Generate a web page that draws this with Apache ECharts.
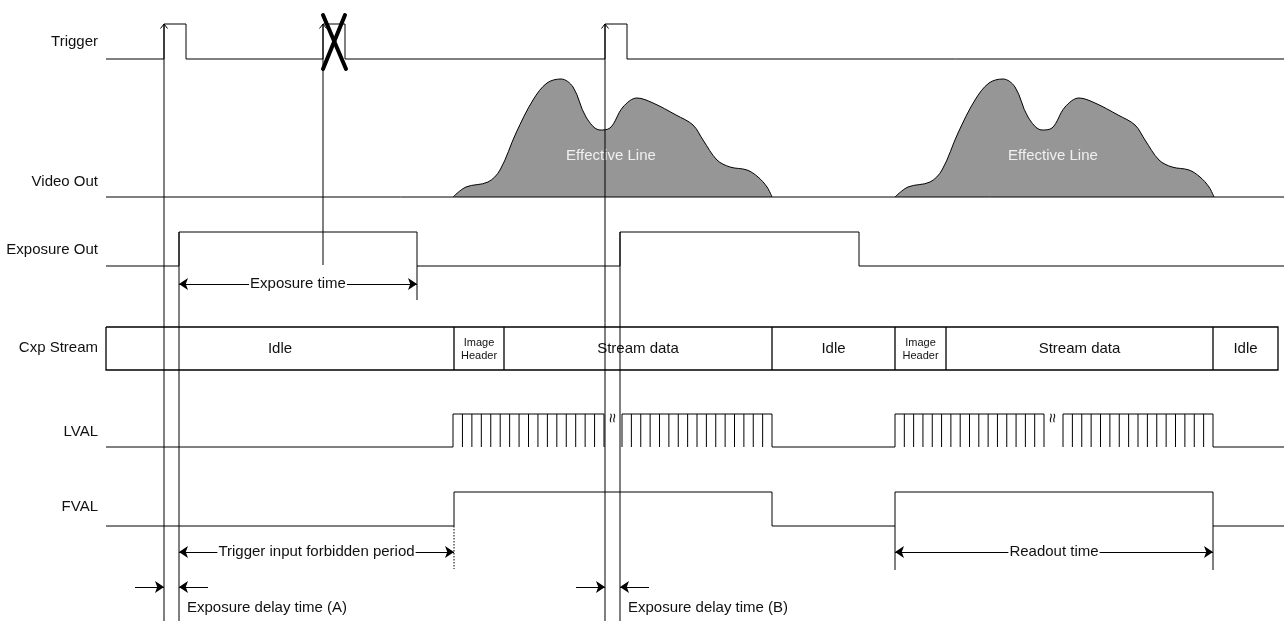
<!DOCTYPE html>
<html>
<head>
<meta charset="utf-8">
<script src="https://cdn.jsdelivr.net/npm/echarts@6/dist/echarts.min.js"></script>
<style>
html,body{margin:0;padding:0;background:#fff;}
#chart{width:1284px;height:623px;}
</style>
</head>
<body>
<div id="chart"></div>
<script>
// ---- data (time axis units, signal levels) ----
const rowLabels = ['Trigger', 'Video Out', 'Exposure Out', 'Cxp Stream', 'LVAL', 'FVAL'];
const rowLabelY = [42, 182, 250, 348, 432, 507];
const timeStart = 106, timeEnd = 1284;

const triggerLevels = [59, 24];              // low, high
const triggerPulses = [[164, 186], [323, 345], [605, 627]];
const rejectedTrigger = 1;                   // index of crossed-out trigger

const videoBase = 197;
const videoStarts = [453, 895];
const videoOffsets = [0, 13, 35, 47, 63, 80, 94, 108, 120, 133, 147, 157, 170, 184, 200, 223, 240, 250, 264, 277, 294, 305, 314, 319];
const videoLevels  = [197, 187, 182, 170, 133, 100, 83, 79, 87, 117, 130, 128, 107, 98, 103, 115, 125, 140, 160, 167, 170, 177, 187, 197];
const videoLabel = 'Effective Line';

const exposureLevels = [266, 232];
const exposurePulses = [[179, 417], [620, 859]];

const cxpLevels = [327, 370];
const cxpBounds = [106, 454, 504, 772, 895, 946, 1213, 1278];
const cxpLabels = ['Idle', 'Image\nHeader', 'Stream data', 'Idle', 'Image\nHeader', 'Stream data', 'Idle'];

const lvalLevels = [447, 414];
const lvalBursts = [[453, 604], [622, 772], [895, 1044], [1063, 1213]];
const lvalPulsesPerBurst = 17;

const fvalLevels = [526, 492];
const fvalPulses = [[454, 772], [895, 1213]];

// vertical reference lines: [time, fromLevel, toLevel]
const markerLines = [[164, 24, 621], [323, 24, 265], [605, 24, 621], [179, 232, 621], [620, 232, 621], [417, 266, 300], [895, 526, 570], [1213, 526, 570]];
const dottedMarker = [454, 526, 569];

// dimension arrows: [from, to, level, text]
const spanArrows = [[179, 417, 284, 'Exposure time'], [179, 454, 552, 'Trigger input forbidden period'], [895, 1213, 552, 'Readout time']];
// delay arrows: [[tail, head], ...] at level, label
const delayArrows = [
  { pairs: [[135, 164], [208, 179]], level: 587, text: 'Exposure delay time (A)', textAt: 187 },
  { pairs: [[576, 605], [649, 620]], level: 587, text: 'Exposure delay time (B)', textAt: 628 }
];

// ---- build geometry ----
function pulseTrain(levels, pulses, start, end) {
  const low = levels[0], high = levels[1];
  const pts = [[start, low]];
  pulses.forEach(p => { pts.push([p[0], low], [p[0], high], [p[1], high], [p[1], low]); });
  pts.push([end, low]);
  return pts;
}

const FONT = '"Liberation Sans", Arial, sans-serif';
const lineItems = [];
function addLine(coords, style) { lineItems.push(style ? { coords, lineStyle: style } : { coords }); }

addLine(pulseTrain(triggerLevels, triggerPulses, timeStart, timeEnd));
addLine([[timeStart, videoBase], [timeEnd, videoBase]]);
addLine(pulseTrain(exposureLevels, exposurePulses, timeStart, timeEnd));
addLine(pulseTrain(fvalLevels, fvalPulses, timeStart, timeEnd));

// Cxp stream box
addLine([[cxpBounds[0], cxpLevels[0]], [cxpBounds[cxpBounds.length - 1], cxpLevels[0]], [cxpBounds[cxpBounds.length - 1], cxpLevels[1]], [cxpBounds[0], cxpLevels[1]], [cxpBounds[0], cxpLevels[0]]], { width: 1.3 });
cxpBounds.slice(1, -1).forEach(b => addLine([[b, cxpLevels[0]], [b, cxpLevels[1]]], { width: 1.3 }));

// LVAL
(function () {
  const low = lvalLevels[0], high = lvalLevels[1];
  addLine([[timeStart, low], [lvalBursts[0][0], low], [lvalBursts[0][0], high], [lvalBursts[0][1], high], [lvalBursts[0][1], low]]);
  addLine([[lvalBursts[1][0], low], [lvalBursts[1][0], high], [lvalBursts[1][1], high], [lvalBursts[1][1], low], [lvalBursts[2][0], low], [lvalBursts[2][0], high], [lvalBursts[2][1], high], [lvalBursts[2][1], low]]);
  addLine([[lvalBursts[3][0], low], [lvalBursts[3][0], high], [lvalBursts[3][1], high], [lvalBursts[3][1], low], [timeEnd, low]]);
  lvalBursts.forEach(b => {
    const step = (b[1] - b[0]) / (lvalPulsesPerBurst - 1);
    for (let k = 1; k < lvalPulsesPerBurst - 1; k++) {
      const x = b[0] + step * k;
      addLine([[x, high], [x, low]]);
    }
  });
})();

// vertical markers
markerLines.forEach(m => addLine([[m[0], m[1]], [m[0], m[2]]]));
addLine([[dottedMarker[0], dottedMarker[1]], [dottedMarker[0], dottedMarker[2]]], { type: [1.5, 1.5], width: 1 });
// open arrow heads at the top of trigger markers
triggerPulses.forEach(p => addLine([[p[0] - 3.5, triggerLevels[1] + 4.5], [p[0], triggerLevels[1]], [p[0] + 3.5, triggerLevels[1] + 4.5]]));
// cross over the rejected trigger
(function () {
  const p = triggerPulses[rejectedTrigger];
  addLine([[p[0], triggerLevels[1] - 9], [p[1] + 1, triggerLevels[0] + 10]], { width: 4, cap: 'round' });
  addLine([[p[1], triggerLevels[1] - 9], [p[0], triggerLevels[0] + 10]], { width: 4, cap: 'round' });
})();

// arrows
const doubleArrowItems = spanArrows.map(a => ({ coords: [[a[0], a[2]], [a[1], a[2]]] }));
const singleArrowItems = [];
delayArrows.forEach(d => d.pairs.forEach(pr => singleArrowItems.push({ coords: [[pr[0], d.level], [pr[1], d.level]] })));

// texts
const plainTexts = [];
rowLabels.forEach((t, i) => plainTexts.push({ x: 98, y: rowLabelY[i], text: t, align: 'right', size: 15 }));
cxpLabels.forEach((t, i) => {
  const mid = (cxpBounds[i] + cxpBounds[i + 1]) / 2;
  const small = t.indexOf('\n') >= 0;
  plainTexts.push({ x: mid, y: (cxpLevels[0] + cxpLevels[1]) / 2 + 0.5, text: t, align: 'center', size: small ? 11 : 15, lh: small ? 13 : 18 });
});
videoStarts.forEach(s => plainTexts.push({ x: s + 158, y: 156, text: videoLabel, align: 'center', size: 15, color: '#f0f0f0' }));
delayArrows.forEach(d => plainTexts.push({ x: d.textAt, y: 608, text: d.text, align: 'left', size: 15 }));
lvalBursts.forEach((b, i) => { if (i % 2 === 0) plainTexts.push({ x: (b[1] + lvalBursts[i + 1][0]) / 2, y: 418, text: '\u2248', align: 'center', size: 17, rot: Math.PI / 2 }); });

const bgTexts = spanArrows.map(a => ({ x: (a[0] + a[1]) / 2, y: a[2], text: a[3], align: 'center', size: 15 }));

function textSeries(items, z, withBg) {
  return {
    type: 'custom', xAxisIndex: 0, yAxisIndex: 0, z: z, silent: true, animation: false,
    data: items.map(t => [t.x, t.y]),
    renderItem: function (params, api) {
      const t = items[params.dataIndex];
      const p = api.coord([api.value(0), api.value(1)]);
      const style = {
        text: t.text, fill: t.color || '#111',
        font: t.size + 'px ' + FONT,
        align: t.align, verticalAlign: 'middle',
        lineHeight: t.lh || Math.round(t.size * 1.2)
      };
      if (withBg) { style.backgroundColor = '#fff'; style.padding = [0, 1]; }
      return { type: 'text', x: p[0], y: p[1], rotation: t.rot || 0, style: style };
    }
  };
}

const videoSeries = videoStarts.map(s => ({
  type: 'line', xAxisIndex: 1, yAxisIndex: 1, z: 1, silent: true, animation: false,
  data: videoOffsets.map((o, i) => [s + o, videoLevels[i]]),
  smooth: 0.35, symbol: 'none',
  lineStyle: { color: '#000', width: 1 },
  areaStyle: { color: '#969696', opacity: 1, origin: 'end' }
}));

const option = {
  animation: false,
  backgroundColor: '#fff',
  grid: [
    { left: 0, right: 0, top: 0, bottom: 0 },
    { left: 0, right: 0, top: 0, height: 197 }
  ],
  xAxis: [
    { type: 'value', gridIndex: 0, min: 0, max: 1284, show: false },
    { type: 'value', gridIndex: 1, min: 0, max: 1284, show: false }
  ],
  yAxis: [
    { type: 'value', gridIndex: 0, min: 0, max: 623, inverse: true, show: false },
    { type: 'value', gridIndex: 1, min: 0, max: 197, inverse: true, show: false }
  ],
  series: videoSeries.concat([
    textSeries(plainTexts, 2, false),
    {
      type: 'lines', coordinateSystem: 'cartesian2d', xAxisIndex: 0, yAxisIndex: 0, polyline: true, z: 3,
      silent: true, animation: false,
      lineStyle: { color: '#000', width: 1, opacity: 1, curveness: 0 },
      data: lineItems
    },
    {
      type: 'lines', coordinateSystem: 'cartesian2d', xAxisIndex: 0, yAxisIndex: 0, z: 3,
      silent: true, animation: false,
      symbol: ['arrow', 'arrow'], symbolSize: 9,
      lineStyle: { color: '#000', width: 1, opacity: 1, curveness: 0 },
      data: doubleArrowItems
    },
    {
      type: 'lines', coordinateSystem: 'cartesian2d', xAxisIndex: 0, yAxisIndex: 0, z: 3,
      silent: true, animation: false,
      symbol: ['none', 'arrow'], symbolSize: 9,
      lineStyle: { color: '#000', width: 1, opacity: 1, curveness: 0 },
      data: singleArrowItems
    },
    textSeries(bgTexts, 5, true)
  ])
};

const chart = echarts.init(document.getElementById('chart'));
chart.setOption(option);
</script>
</body>
</html>
